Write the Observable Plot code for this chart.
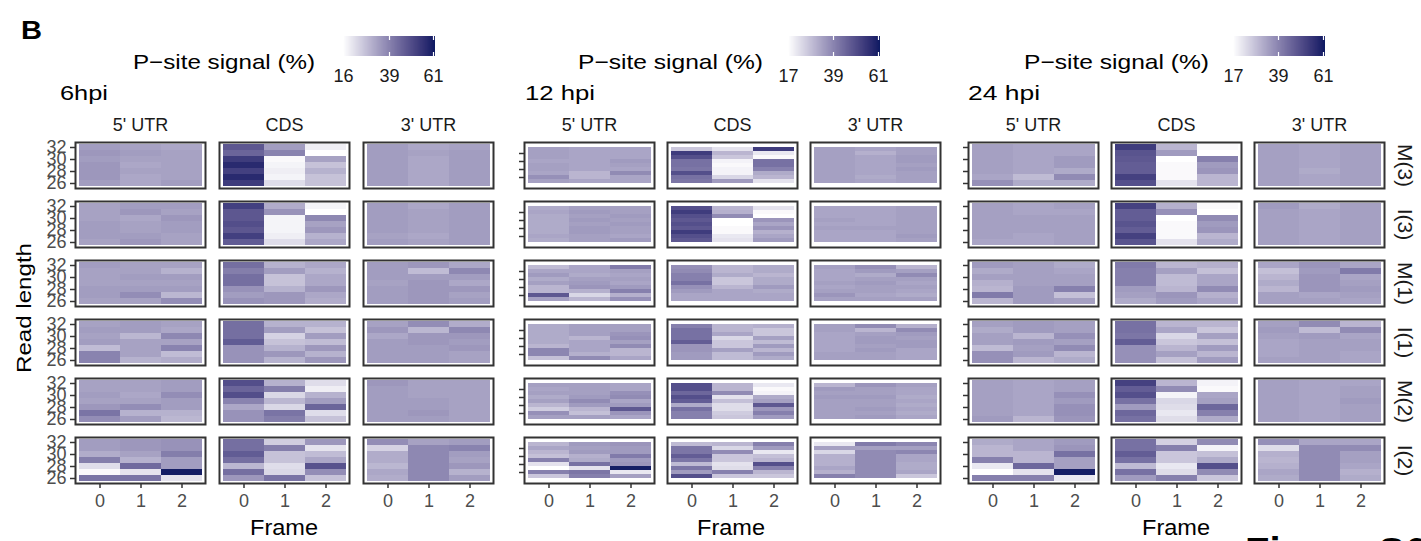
<!DOCTYPE html>
<html>
<head>
<meta charset="utf-8">
<script src="https://cdn.jsdelivr.net/npm/d3@7"></script>
<script src="https://cdn.jsdelivr.net/npm/@observablehq/plot@0.6"></script>
<style>
  html, body { margin: 0; padding: 0; background: #ffffff; }
  #root { position: relative; width: 1421px; height: 541px; overflow: hidden; background: #ffffff;
          font-family: "Liberation Sans", Arial, sans-serif; }
  .abs { position: absolute; }
  .panel g[aria-label="x-axis tick label"] text,
  .panel g[aria-label="y-axis tick label"] text { fill: #4d4d4d; font-size: 18px; }
  .panel g[aria-label="fx-axis tick label"] text { fill: #1a1a1a; font-size: 18px; }
  .panel g[aria-label="fy-axis tick label"] text { fill: #1a1a1a; font-size: 21px; }
  .panel g[aria-label="x-axis tick"], .panel g[aria-label="y-axis tick"] { stroke: #333333; stroke-width: 1.5px; }
</style>
</head>
<body>
<div id="root"></div>
<script>
// ---------------- data ----------------
const regions = ["5' UTR", "CDS", "3' UTR"];
const types = ["M(3)", "I(3)", "M(1)", "I(1)", "M(2)", "I(2)"];
const frames = [0, 1, 2];
const lengths6 = [32, 31, 30, 29, 28, 27, 26];
const lengths12 = [33, 32, 31, 30, 29, 28, 27, 26, 25];
const lengths24 = [32, 31, 30, 29, 28, 27, 26];
const yTicks = [32, 30, 28, 26];
const legendTicks6 = [16, 39, 61];
const legendTicks12 = [17, 39, 61];
const legendTicks24 = [17, 39, 61];
const colorDomain6 = [16, 62];
const colorDomain12 = [17, 62];
const colorDomain24 = [17, 62];
const panelTitles = ["6hpi", "12 hpi", "24 hpi"];

// each array: per type (M(3), I(3), M(1), I(1), M(2), I(2)) -> [frame0, frame1, frame2], read lengths top to bottom
const hpi6_utr5 = [
  [[34,35,34,35,35,35,34],[33,34,33,32,33,32,32],[32,33,33,33,33,33,34]],
  [[33,33,33,34,34,34,33],[34,35,32,33,33,34,35],[34,33,35,34,34,33,33]],
  [[34,33,33,33,34,34,33],[33,33,34,33,34,37,33],[33,30,34,33,34,29,37]],
  [[33,34,33,34,28,39,39],[34,34,29,33,33,33,30],[33,32,38,33,39,28,31]],
  [[33,33,34,33,35,42,37],[33,33,32,33,37,30,34],[34,34,37,34,34,30,29]],
  [[34,34,31,40,22,17,42],[35,35,33,30,44,21,42],[36,36,40,34,34,61,21]]
];
const hpi6_cds = [
  [[48,45,54,58,53,58,54],[34,39,17,18,19,18,22],[19,16,33,27,30,27,27]],
  [[53,48,48,50,48,53,47],[31,36,18,18,18,19,22],[18,16,38,33,35,30,32]],
  [[43,40,43,43,36,34,36],[30,34,27,27,30,35,35],[32,30,32,32,35,32,31]],
  [[43,43,43,47,36,36,36],[30,34,24,27,30,35,30],[30,27,34,28,35,30,35]],
  [[50,45,50,39,32,36,36],[30,40,23,29,23,42,40],[22,19,30,34,45,22,27]],
  [[43,43,47,43,29,43,35],[25,40,27,27,22,23,42],[35,21,28,32,49,37,27]]
];
const hpi6_utr3 = [
  [[34,34,34,34,34,34,34],[32,33,32,32,32,32,32],[33,34,34,34,34,34,34]],
  [[34,34,34,34,34,33,34],[32,33,33,33,33,32,33],[34,34,34,34,34,34,34]],
  [[34,34,34,33,34,34,34],[35,28,34,35,35,35,35],[32,38,34,32,35,33,34]],
  [[33,35,32,34,34,34,34],[37,29,35,35,34,34,34],[31,38,35,34,35,33,33]],
  [[35,34,34,34,34,34,34],[33,33,33,34,34,35,34],[33,33,33,33,33,33,33]],
  [[37,24,31,31,29,32,31],[33,38,38,38,38,38,38],[34,39,34,33,35,30,34]]
];
const hpi12_utr5 = [
  [[34,34,34,33,34,34,33,37,34],[33,33,33,33,33,33,30,30,33],[33,33,33,35,34,33,38,33,33]],
  [[32,33,32,32,32,32,32,33,32],[34,35,34,35,34,35,35,34,34],[34,34,35,34,35,34,34,33,35]],
  [[29,33,35,32,34,30,30,48,34],[33,33,32,34,35,36,31,24,30],[41,34,33,34,33,35,40,31,37]],
  [[32,32,32,32,32,30,39,39,28],[34,34,34,30,33,33,33,31,38],[34,34,36,37,34,38,30,30,33]],
  [[34,33,34,32,34,30,26,37,34],[34,34,34,35,38,35,30,28,34],[33,33,37,38,33,35,48,36,33]],
  [[30,33,30,28,40,22,17,40,27],[35,34,35,31,32,43,22,42,40],[36,35,35,41,35,36,61,21,34]]
];
const hpi12_cds = [
  [[27,54,50,43,43,42,50,43,42],[22,30,27,19,18,19,19,24,35],[54,21,18,43,43,40,32,30,22]],
  [[50,54,50,48,50,48,54,50,48],[30,31,38,16,17,18,18,21,22],[22,18,16,36,33,36,31,33,35]],
  [[37,38,40,40,43,37,35,33,33],[30,30,32,27,27,30,33,33,33],[32,32,30,32,32,35,32,33,33]],
  [[40,43,43,43,47,36,36,35,35],[30,30,33,24,27,27,34,29,29],[31,27,27,34,29,35,30,35,32]],
  [[50,50,45,50,47,32,43,40,40],[30,30,38,22,28,23,23,26,27],[21,18,19,32,34,48,36,40,35]],
  [[29,42,42,47,42,29,42,35,50],[30,24,38,27,27,22,23,40,27],[40,35,21,28,30,50,40,30,27]]
];
const hpi12_utr3 = [
  [[34,34,34,34,34,34,34,34,34],[33,31,33,33,33,33,33,32,33],[34,34,35,35,34,35,34,34,34]],
  [[33,33,33,34,33,34,33,33,33],[33,33,33,33,33,34,33,33,33],[34,34,34,34,34,34,34,35,34]],
  [[34,33,33,33,34,33,34,36,34],[37,35,32,34,35,34,34,33,34],[30,34,38,34,33,34,33,32,34]],
  [[34,34,33,33,33,33,33,34,34],[38,30,34,35,35,34,35,34,34],[31,38,35,34,35,35,33,33,33]],
  [[30,35,34,35,34,34,34,34,34],[36,34,34,35,34,34,35,34,35],[34,33,33,32,33,32,33,32,33]],
  [[21,34,24,31,31,31,33,31,40],[41,34,38,38,38,38,38,38,38],[39,34,39,33,33,32,32,33,27]]
];
const hpi24_utr5 = [
  [[34,34,34,34,34,33,37],[33,33,33,33,33,29,32],[33,33,35,35,32,38,32]],
  [[34,34,34,34,34,34,33],[33,33,34,34,34,33,33],[34,33,34,34,34,34,34]],
  [[35,32,34,31,30,41,30],[34,34,34,34,35,35,35],[32,33,34,34,40,28,34]],
  [[34,32,34,34,29,37,37],[35,35,30,35,34,35,30],[34,34,37,34,38,30,32]],
  [[34,34,34,34,34,34,35],[33,33,33,33,33,33,30],[34,34,37,35,37,37,36]],
  [[32,30,30,40,21,17,40],[33,33,30,30,45,22,40],[35,36,43,34,34,61,21]]
];
const hpi24_cds = [
  [[54,49,48,47,47,53,50],[30,35,17,18,18,18,22],[18,16,40,35,36,30,30]],
  [[53,47,47,49,47,53,49],[31,37,17,18,18,18,22],[18,16,38,35,36,30,32]],
  [[41,40,40,40,35,34,32],[30,34,29,29,30,36,35],[31,28,33,33,38,31,33]],
  [[43,43,42,47,37,37,37],[30,33,24,27,30,34,28],[30,27,34,28,35,30,35]],
  [[53,47,50,43,35,45,43],[30,38,19,24,23,21,23],[19,18,33,34,45,40,32]],
  [[43,43,47,43,29,43,35],[25,40,27,27,21,23,40],[38,19,28,32,50,38,27]]
];
const hpi24_utr3 = [
  [[34,34,34,34,34,34,34],[33,33,33,33,32,33,33],[34,34,34,34,34,34,34]],
  [[35,34,34,34,34,34,34],[32,33,33,33,33,33,33],[34,34,34,34,34,34,34]],
  [[33,28,30,32,30,34,34],[36,35,36,36,36,33,34],[33,41,33,34,35,34,33]],
  [[34,35,34,33,33,33,34],[38,29,35,34,34,34,34],[30,38,33,34,34,33,33]],
  [[34,34,34,34,34,34,34],[33,33,33,33,33,33,33],[33,34,34,35,34,34,34]],
  [[37,23,31,30,31,33,32],[33,38,38,38,38,38,38],[33,38,34,34,33,31,32]]
];

// ---------------- helpers ----------------
const FONT = '"Liberation Sans", Arial, Helvetica, sans-serif';
const LOW = "#ffffff";
const HIGH = "#0c1a62";

function tidy(byRegion, lengths) {
  const rows = [];
  byRegion.forEach((typeArr, ri) =>
    typeArr.forEach((frameArr, ti) =>
      frameArr.forEach((vals, f) =>
        vals.forEach((v, i) =>
          rows.push({region: regions[ri], type: types[ti], frame: frames[f], len: lengths[i], value: v})))));
  return rows;
}

const root = document.getElementById("root");

function place(el, left, top) {
  const wrap = document.createElement("div");
  wrap.className = "abs";
  wrap.style.left = left + "px";
  wrap.style.top = top + "px";
  wrap.appendChild(el);
  root.appendChild(wrap);
  return wrap;
}

function makePanel(p) {
  const chart = Plot.plot({
    width: p.width, height: 415,
    marginTop: 41, marginBottom: 31, marginLeft: p.ml, marginRight: p.mr,
    style: {fontFamily: FONT, fontSize: "18px", color: "#333333", background: "transparent", overflow: "visible"},
    fx: {domain: regions, paddingInner: 0.094, paddingOuter: 0, axis: "top", label: null, tickSize: 0, tickPadding: 12},
    fy: {domain: types, paddingInner: 0.218, paddingOuter: 0, axis: p.strips ? "right" : null, label: null, tickSize: 0, tickPadding: 28, tickRotate: 90},
    x: {type: "band", domain: frames, padding: 0, insetLeft: 3, insetRight: 3, label: null, tickSize: 5, tickPadding: 6},
    y: {type: "band", domain: p.lengths, padding: 0, insetTop: 1, insetBottom: 2, ticks: yTicks,
        tickFormat: p.yLabels ? (d => String(d)) : (() => ""), label: null, tickSize: 5, tickPadding: 4},
    color: {type: "linear", domain: p.domain, range: [LOW, HIGH], interpolate: "lab"},
    marks: [
      Plot.cell(p.data, {x: "frame", y: "len", fx: "region", fy: "type", fill: "value", inset: 0}),
      Plot.frame({stroke: "#333333", strokeWidth: 2})
    ]
  });
  const w = place(chart, p.left, 100);
  w.classList.add("panel");
}

function makeLegend(domain, ticks, barLeft) {
  const lg = Plot.legend({
    color: {type: "linear", domain, range: [LOW, HIGH], interpolate: "lab"},
    label: null, width: 92 + 40, marginLeft: 20, marginRight: 20,
    height: 50, marginTop: 0, marginBottom: 30, ticks, tickSize: 0,
    tickFormat: d => String(d),
    style: {fontFamily: FONT, fontSize: "18px", color: "#1a1a1a", background: "transparent", overflow: "visible"}
  });
  const s = d3.select(lg);
  s.selectAll(".tick line").attr("stroke", "#ffffff").attr("stroke-width", 1.2)
    .attr("y1", -20).attr("y2", 0).attr("stroke-dasharray", "4,12,4");
  s.selectAll(".tick text").attr("y", 13).attr("dy", "0.71em")
    .style("font-size", "18px").style("fill", "#1a1a1a").style("font-family", FONT);
  place(lg, barLeft - 20, 36);
}

// ---------------- panels ----------------
makePanel({left: 0, width: 505, ml: 74, mr: 11, lengths: lengths6,
  data: tidy([hpi6_utr5, hpi6_cds, hpi6_utr3], lengths6), domain: colorDomain6, yLabels: true, strips: false});
makePanel({left: 505, width: 450, ml: 18, mr: 15, lengths: lengths12,
  data: tidy([hpi12_utr5, hpi12_cds, hpi12_utr3], lengths12), domain: colorDomain12, yLabels: false, strips: false});
makePanel({left: 955, width: 466, ml: 12, mr: 36, lengths: lengths24,
  data: tidy([hpi24_utr5, hpi24_cds, hpi24_utr3], lengths24), domain: colorDomain24, yLabels: false, strips: true});

makeLegend(colorDomain6, legendTicks6, 343);
makeLegend(colorDomain12, legendTicks12, 788);
makeLegend(colorDomain24, legendTicks24, 1233);

// ---------------- annotation text ----------------
const ov = d3.select(root).append("svg")
  .attr("class", "abs").attr("width", 1421).attr("height", 541)
  .style("left", "0px").style("top", "0px").style("pointer-events", "none")
  .style("font-family", FONT);

function txt(s, x, y, size, opts = {}) {
  const t = ov.append("text").attr("x", x).attr("y", y).attr("font-size", size)
    .attr("fill", opts.fill || "#000000").text(s);
  if (opts.bold) t.attr("font-weight", "bold");
  if (opts.anchor) t.attr("text-anchor", opts.anchor);
  if (opts.len) t.attr("textLength", opts.len).attr("lengthAdjust", "spacingAndGlyphs");
  if (opts.rotate) t.attr("transform", `rotate(${opts.rotate},${x},${y})`);
  return t;
}

txt("B", 21, 39, 25, {bold: true, len: 21});
const legendTitle = "P\u2212site signal (%)";
txt(legendTitle, 133, 69, 21, {len: 182});
txt(legendTitle, 578, 69, 21, {len: 185});
txt(legendTitle, 1024, 69, 21, {len: 185});
txt(panelTitles[0], 60, 100, 21, {len: 48});
txt(panelTitles[1], 525, 100, 21, {len: 70});
txt(panelTitles[2], 968, 100, 21, {len: 72});
txt("Frame", 284, 535, 22, {anchor: "middle", len: 68});
txt("Frame", 731, 535, 22, {anchor: "middle", len: 68});
txt("Frame", 1176, 535, 22, {anchor: "middle", len: 68});
txt("Read length", 31, 308, 21, {anchor: "middle", len: 130, rotate: -90});
txt("Figure S6", 1245, 566, 40, {bold: true});
</script>
</body>
</html>
